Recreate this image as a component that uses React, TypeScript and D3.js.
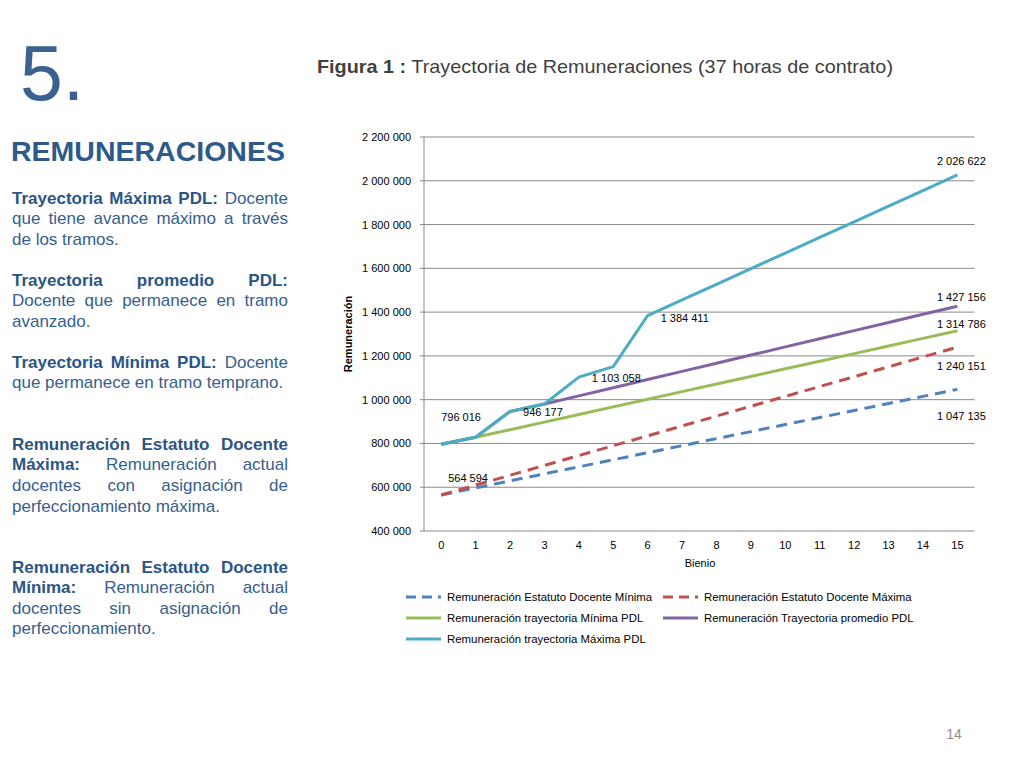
import React, { useMemo } from "react";
import * as d3 from "d3";

// ---------- DATA ----------
const bienios = ["0", "1", "2", "3", "4", "5", "6", "7", "8", "9", "10", "11", "12", "13", "14", "15"];

const estatutoMinima = [564594, 596800, 628900, 661100, 693300, 725400, 757600, 789800, 822000, 854100, 886300, 918400, 950600, 982800, 1014900, 1047135];
const estatutoMaxima = [564594, 609600, 654700, 699700, 744700, 789800, 834800, 879900, 924900, 969900, 1015000, 1060000, 1105000, 1150100, 1195100, 1240151];
const trayectoriaMinima = [796016, 828000, 862800, 897500, 932300, 967100, 1001800, 1036600, 1071400, 1106100, 1140900, 1175700, 1210400, 1245200, 1280000, 1314786];
const trayectoriaPromedio = [796016, 828000, 946177, 980300, 1017500, 1054800, 1092000, 1129200, 1166500, 1203700, 1241000, 1278200, 1315400, 1352700, 1389900, 1427156];
const trayectoriaMaxima = [796016, 828000, 946177, 980300, 1103058, 1150700, 1384411, 1455800, 1527100, 1598500, 1669800, 1741200, 1812600, 1883900, 1955300, 2026622];

const seriesNames = [
  "Remuneración Estatuto Docente Mínima",
  "Remuneración Estatuto Docente Máxima",
  "Remuneración trayectoria Mínima PDL",
  "Remuneración Trayectoria promedio PDL",
  "Remuneración trayectoria Máxima PDL",
];

const yTickValues = [400000, 600000, 800000, 1000000, 1200000, 1400000, 1600000, 1800000, 2000000, 2200000];

// ---------- STYLE ----------
const FONT = "'Liberation Sans', Arial, Helvetica, sans-serif";
const seriesStyles = [
  { color: "#4F81BD", dash: "11 7" },
  { color: "#C0504D", dash: "11 7" },
  { color: "#9BBB59", dash: "" },
  { color: "#8064A2", dash: "" },
  { color: "#4BACC6", dash: "" },
];

// which points carry a data label and where it sits relative to the point
const labelPlacements = [
  { s: 4, i: 0, dx: 0, dy: -27, anchor: "start" },
  { s: 4, i: 2, dx: 13, dy: 1, anchor: "start" },
  { s: 4, i: 4, dx: 13, dy: 1, anchor: "start" },
  { s: 4, i: 6, dx: 13, dy: 2, anchor: "start" },
  { s: 4, i: 15, dx: 4, dy: -14, anchor: "middle" },
  { s: 1, i: 0, dx: 7, dy: -17, anchor: "start" },
  { s: 3, i: 15, dx: 4, dy: -9, anchor: "middle" },
  { s: 2, i: 15, dx: 4, dy: -7, anchor: "middle" },
  { s: 1, i: 15, dx: 4, dy: 19, anchor: "middle" },
  { s: 0, i: 15, dx: 4, dy: 27, anchor: "middle" },
];

// legend layout: [column x, row y]
const legendSlots = [
  [406, 597],
  [663, 597],
  [406, 618],
  [663, 618],
  [406, 639],
];

// ---------- LEFT TEXT ----------
type Seg = { t: string; b?: boolean };
type Line = { segs: Seg[]; justify: boolean; y: number };

const leftLines: Line[] = [
  { segs: [{ t: "Trayectoria Máxima PDL:", b: true }, { t: " Docente" }], justify: true, y: 198 },
  { segs: [{ t: "que tiene avance máximo a través" }], justify: true, y: 218 },
  { segs: [{ t: "de los tramos." }], justify: false, y: 239 },
  { segs: [{ t: "Trayectoria promedio PDL:", b: true }], justify: true, y: 280 },
  { segs: [{ t: "Docente que permanece en tramo" }], justify: true, y: 300 },
  { segs: [{ t: "avanzado." }], justify: false, y: 321 },
  { segs: [{ t: "Trayectoria Mínima PDL:", b: true }, { t: " Docente" }], justify: true, y: 362 },
  { segs: [{ t: "que permanece en tramo temprano." }], justify: false, y: 382 },
  { segs: [{ t: "Remuneración Estatuto Docente", b: true }], justify: true, y: 444 },
  { segs: [{ t: "Máxima:", b: true }, { t: " Remuneración actual" }], justify: true, y: 464 },
  { segs: [{ t: "docentes con asignación de" }], justify: true, y: 485 },
  { segs: [{ t: "perfeccionamiento máxima." }], justify: false, y: 506 },
  { segs: [{ t: "Remuneración Estatuto Docente", b: true }], justify: true, y: 567 },
  { segs: [{ t: "Mínima:", b: true }, { t: " Remuneración actual" }], justify: true, y: 587 },
  { segs: [{ t: "docentes sin asignación de" }], justify: true, y: 608 },
  { segs: [{ t: "perfeccionamiento." }], justify: false, y: 628 },
];

const TEXT_X = 12;
const TEXT_W = 276;
const TEXT_SIZE = 17;

function useLayout() {
  return useMemo(() => {
    const canvas = document.createElement("canvas");
    const ctx = canvas.getContext("2d")!;
    const measure = (t: string, b: boolean) => {
      ctx.font = `${b ? "bold " : ""}${TEXT_SIZE}px 'Liberation Sans', Arial, sans-serif`;
      return ctx.measureText(t).width;
    };
    return leftLines.map((line) => {
      const words: { t: string; b: boolean }[] = [];
      line.segs.forEach((s) => {
        s.t.split(" ").filter((w) => w.length).forEach((w) => words.push({ t: w, b: !!s.b }));
      });
      const widths = words.map((w) => measure(w.t, w.b));
      const total = widths.reduce((a, c) => a + c, 0);
      const gap = line.justify && words.length > 1 ? (TEXT_W - total) / (words.length - 1) : measure(" ", false);
      let x = TEXT_X;
      const placed = words.map((w, k) => {
        const p = { ...w, x };
        x += widths[k] + gap;
        return p;
      });
      return { y: line.y, words: placed };
    });
  }, []);
}

export default function App() {
  const lines = useLayout();
  const series = [estatutoMinima, estatutoMaxima, trayectoriaMinima, trayectoriaPromedio, trayectoriaMaxima];

  const x = d3.scaleBand<string>().domain(bienios).range([424, 974.6]).padding(0);
  const y = d3.scaleLinear().domain([400000, 2200000]).range([531, 137]);
  const cx = (i: number) => (x(bienios[i]) as number) + x.bandwidth() / 2;
  const line = d3
    .line<number>()
    .x((_, i) => cx(i))
    .y((d) => y(d));
  const fmt = (v: number) => d3.format(",")(v).replace(/,/g, " ");

  return (
    <svg
      width={1024}
      height={768}
      style={{ position: "absolute", left: 0, top: 0, background: "#fff" }}
      fontFamily={FONT}
    >
      <rect x={0} y={0} width={1024} height={768} fill="#fff" />
      {/* Slide heading */}
      <text x={20} y={100} fontSize={77} fill="#3A6190">5.</text>
      <text x={11} y={161} fontSize={28.5} fontWeight="bold" fill="#2E5A8A">REMUNERACIONES</text>

      {lines.map((ln, k) => (
        <text key={k} y={ln.y + 6} fontSize={TEXT_SIZE}>
          {ln.words.map((w, j) => (
            <tspan key={j} x={w.x} fontWeight={w.b ? "bold" : "normal"} fill={w.b ? "#2B5585" : "#35608F"}>
              {w.t}
            </tspan>
          ))}
        </text>
      ))}

      {/* Title */}
      <text x={317} y={73} fontSize={19} fill="#404040" textLength={576} lengthAdjust="spacingAndGlyphs">
        <tspan fontWeight="bold">Figura 1 :</tspan>
        <tspan> Trayectoria de Remuneraciones (37 horas de contrato)</tspan>
      </text>

      {/* Grid */}
      {yTickValues.map((v) => (
        <g key={v}>
          <line x1={424} x2={974.6} y1={y(v)} y2={y(v)} stroke="#898989" strokeWidth={1} />
          <line x1={420} x2={424} y1={y(v)} y2={y(v)} stroke="#898989" strokeWidth={1} />
          <text x={411} y={y(v) + 4} fontSize={11} textAnchor="end" fill="#000">{fmt(v)}</text>
        </g>
      ))}
      <line x1={424} x2={424} y1={137} y2={531} stroke="#898989" strokeWidth={1} />

      {/* X tick labels */}
      {bienios.map((b, i) => (
        <text key={b} x={cx(i)} y={549} fontSize={11} textAnchor="middle" fill="#000">{b}</text>
      ))}
      <text x={700} y={567} fontSize={11} textAnchor="middle" fill="#000">Bienio</text>
      <text
        transform="translate(352,334) rotate(-90)"
        fontSize={11}
        fontWeight="bold"
        textAnchor="middle"
        fill="#000"
      >
        Remuneración
      </text>

      {/* Series */}
      {series.map((vals, s) => (
        <path
          key={s}
          d={line(vals) || ""}
          fill="none"
          stroke={seriesStyles[s].color}
          strokeWidth={3}
          strokeDasharray={seriesStyles[s].dash || undefined}
          strokeLinejoin="round"
        />
      ))}

      {/* Data labels */}
      {labelPlacements.map((p, k) => (
        <text
          key={k}
          x={cx(p.i) + p.dx}
          y={y(series[p.s][p.i]) + p.dy + 4}
          fontSize={11}
          textAnchor={p.anchor as any}
          fill="#000"
        >
          {fmt(series[p.s][p.i])}
        </text>
      ))}

      {/* Legend */}
      {seriesNames.map((n, s) => {
        const [lx, ly] = legendSlots[s];
        return (
          <g key={n}>
            <line
              x1={lx}
              x2={lx + 35}
              y1={ly}
              y2={ly}
              stroke={seriesStyles[s].color}
              strokeWidth={3}
              strokeDasharray={seriesStyles[s].dash ? "10 6" : undefined}
            />
            <text x={lx + 41} y={ly + 4} fontSize={11.4} fill="#000">{n}</text>
          </g>
        );
      })}

      {/* Page number */}
      <text x={954} y={739} fontSize={14} textAnchor="middle" fill="#8C8C8C">14</text>
    </svg>
  );
}
